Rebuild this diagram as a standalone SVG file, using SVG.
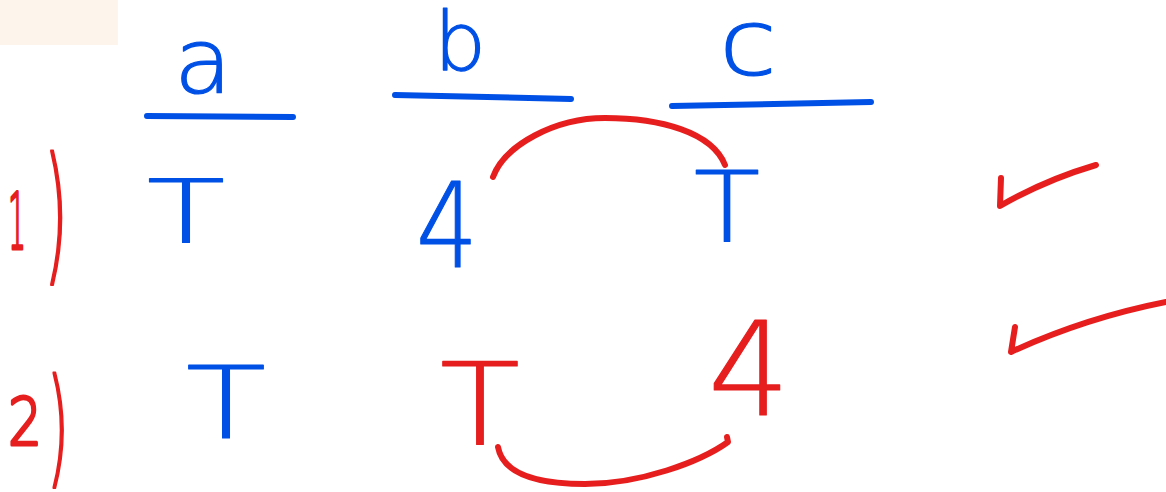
<svg xmlns="http://www.w3.org/2000/svg" width="1166" height="492" viewBox="0 0 1166 492">
<style>
.b{fill:#0050e6;stroke:#0050e6;stroke-width:1.2;stroke-linejoin:round}
.r{fill:#e61e1e;stroke:#e61e1e;stroke-width:1.2;stroke-linejoin:round}
.th{stroke-width:3.2}
.t{font-family:"DejaVu Sans","Liberation Sans",sans-serif;font-weight:200;text-anchor:middle}
.ln{fill:none;stroke-width:6;stroke-linecap:round;stroke-linejoin:round}
.bl{stroke:#0050e6}
.rl{stroke:#e61e1e}
</style>
<rect x="0" y="0" width="118" height="45" fill="#fdf4ec"/>
<g id="headers">
<text class="t b" x="203" y="93" font-size="90" textLength="58" lengthAdjust="spacingAndGlyphs">a</text>
<text class="t b" x="460" y="70" font-size="82">b</text>
<text class="t b" x="748" y="75" font-size="92" textLength="58" lengthAdjust="spacingAndGlyphs">c</text>
<path class="ln bl" d="M147,116 L293,117"/>
<path class="ln bl" d="M395,95 L571,99"/>
<path class="ln bl" d="M672,106 L871,102"/>
</g>
<g id="row1">
<text class="t r th" x="17" y="249" font-size="78" textLength="18" lengthAdjust="spacingAndGlyphs">1</text>
<text class="t r th" x="56" y="265" font-size="150" textLength="24" lengthAdjust="spacingAndGlyphs">)</text>
<text id="r1a" class="t b" x="186" y="242" font-size="87" textLength="78" lengthAdjust="spacingAndGlyphs">T</text>
<text id="r1b" class="t b" x="447" y="267" font-size="118" textLength="62" lengthAdjust="spacingAndGlyphs">4</text>
<text id="r1c" class="t b" x="727" y="242" font-size="98" textLength="66" lengthAdjust="spacingAndGlyphs">T</text>
</g>
<g id="row2">
<text class="t r th" x="25" y="445" font-size="66" textLength="34" lengthAdjust="spacingAndGlyphs">2</text>
<text class="t r th" x="58" y="471" font-size="128" textLength="22" lengthAdjust="spacingAndGlyphs">)</text>
<text id="r2a" class="t b" x="226" y="438" font-size="100" textLength="80" lengthAdjust="spacingAndGlyphs">T</text>
<text id="r2b" class="t r" x="480" y="445" font-size="114" textLength="80" lengthAdjust="spacingAndGlyphs">T</text>
<text id="r2c" class="t r" x="749" y="415" font-size="130" textLength="82" lengthAdjust="spacingAndGlyphs">4</text>
</g>
<g id="connectors">
<path class="ln rl" d="M493,177 C505,145 555,118 605,118 C660,118 712,132 725,165"/>
<path class="ln rl" d="M498,447 C503,475 540,484 585,484 C640,484 700,462 728,442 L727,437"/>
</g>
<g id="checks">
<path class="ln rl" d="M1001,178 L1000,206 Q1045,180 1096,165"/>
<path class="ln rl" d="M1015,327 L1011,352 Q1085,318 1166,302"/>
</g>
</svg>
